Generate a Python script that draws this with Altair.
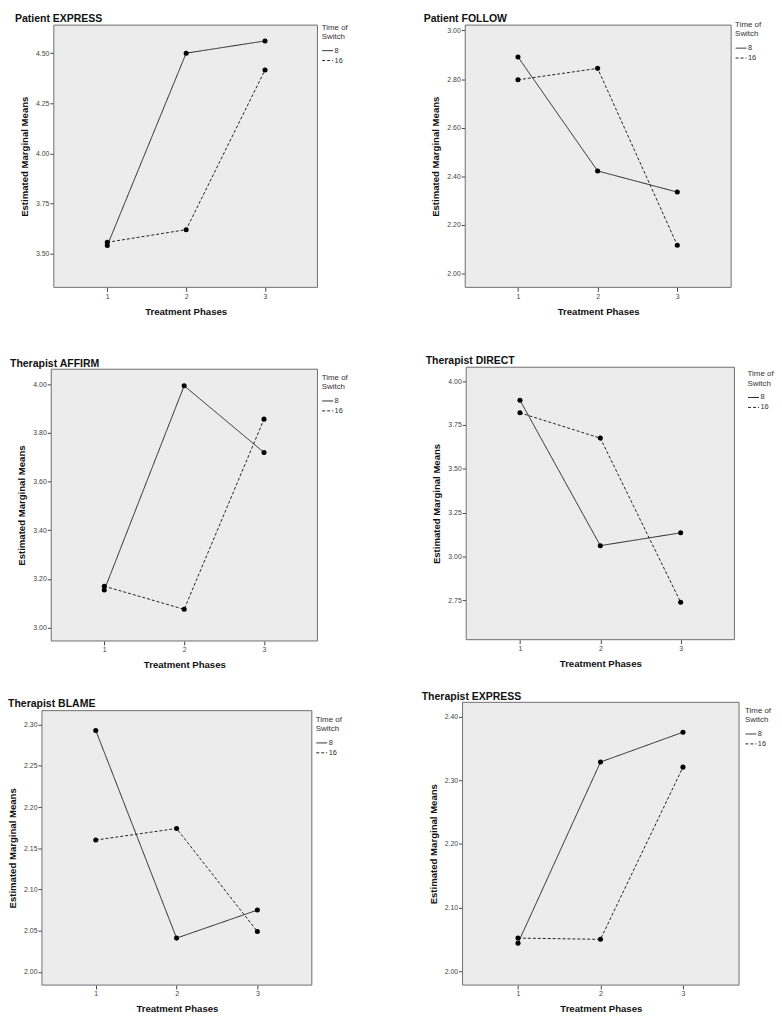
import altair as alt
import pandas as pd

# ---------------- data ----------------
phases = [1, 2, 3]
switch_times = ["8", "16"]
panel_titles = [
    "Patient EXPRESS", "Patient FOLLOW",
    "Therapist AFFIRM", "Therapist DIRECT",
    "Therapist BLAME", "Therapist EXPRESS",
]
means_switch_8 = [
    [3.540, 4.500, 4.561],
    [2.891, 2.422, 2.335],
    [3.154, 3.993, 3.719],
    [3.891, 3.062, 3.135],
    [2.293, 2.041, 2.075],
    [2.044, 2.329, 2.376],
]
means_switch_16 = [
    [3.556, 3.619, 4.416],
    [2.797, 2.844, 2.116],
    [3.170, 3.075, 3.856],
    [3.819, 3.675, 2.739],
    [2.160, 2.174, 2.049],
    [2.052, 2.050, 2.321],
]
y_tick_values = [
    [3.50, 3.75, 4.00, 4.25, 4.50],
    [2.00, 2.20, 2.40, 2.60, 2.80, 3.00],
    [3.00, 3.20, 3.40, 3.60, 3.80, 4.00],
    [2.75, 3.00, 3.25, 3.50, 3.75, 4.00],
    [2.00, 2.05, 2.10, 2.15, 2.20, 2.25, 2.30],
    [2.00, 2.10, 2.20, 2.30, 2.40],
]
x_axis_title = "Treatment Phases"
y_axis_title = "Estimated Marginal Means"
legend_title = ["Time of", "Switch"]

# ---------------- scale extents and layout (page pixels) ----------------
x_domains = [[0.322, 3.665], [0.338, 3.676], [0.336, 3.669],
             [0.331, 3.669], [0.334, 3.674], [0.328, 3.680]]
y_domains = [[3.331, 4.640], [1.943, 3.022], [2.945, 4.061],
             [2.526, 4.079], [1.984, 2.317], [1.978, 2.423]]
# frame: left, right, top, bottom
frames = [(54.3, 320.7, 20, 285), (470, 738.7, 20, 285),
          (51.7, 320.7, 367.7, 642.3), (471, 742, 365.7, 641),
          (42.3, 315, 712.7, 990), (467.3, 746.7, 704.3, 990)]
title_pos = [(15, 17), (428, 17), (10, 365), (430, 362.5), (8, 709), (426, 701.5)]
legend_pos = [(325, 18.5), (742.7, 16), (325, 372.5), (755.3, 369), (319, 718), (752.7, 709)]

M = 8
W, H = 774, 1012
FONT = "Liberation Sans"
BG = "#ECECEC"
FRAME = "#6E6E6E"

layers = []
for i in range(6):
    L, R, T, B = frames[i]
    xs = alt.Scale(domain=x_domains[i], range=[L - M, R - M], nice=False, zero=False)
    ys = alt.Scale(domain=y_domains[i], range=[B - M, T - M], nice=False, zero=False)
    xaxis = alt.Axis(
        orient="bottom", offset=(B - M) - H, values=phases, format="d",
        title=x_axis_title, grid=False, domain=False, tickSize=4, tickColor="#444",
        labelFontSize=7, labelColor="#444", labelPadding=1, labelFont=FONT,
        titleFont=FONT, titleFontSize=9.7, titleFontWeight="bold", titleColor="#111",
        titlePadding=7,
    )
    yaxis = alt.Axis(
        orient="left", offset=-(L - M), values=y_tick_values[i], format=".2f",
        title=y_axis_title, grid=False, domain=False, tickSize=4, tickColor="#444",
        labelFontSize=7, labelColor="#444", labelPadding=1, labelFont=FONT,
        titleFont=FONT, titleFontSize=9.7, titleFontWeight="bold", titleColor="#111",
        titlePadding=6,
    )
    df = pd.DataFrame({
        "Phase": phases * 2,
        "Switch": [switch_times[0]] * 3 + [switch_times[1]] * 3,
        "Mean": means_switch_8[i] + means_switch_16[i],
    })
    box = pd.DataFrame({"x0": [x_domains[i][0]], "x1": [x_domains[i][1]],
                        "y0": [y_domains[i][0]], "y1": [y_domains[i][1]]})
    frame = alt.Chart(box).mark_rect(fill=BG, stroke=FRAME, strokeWidth=1).encode(
        x=alt.X("x0:Q", scale=xs, axis=xaxis), x2="x1:Q",
        y=alt.Y("y0:Q", scale=ys, axis=yaxis), y2="y1:Q",
    )
    lx, ly = legend_pos[i]
    lines = alt.Chart(df).mark_line(color="#222", strokeWidth=1).encode(
        x=alt.X("Phase:Q", scale=xs, axis=xaxis),
        y=alt.Y("Mean:Q", scale=ys, axis=yaxis),
        strokeDash=alt.StrokeDash(
            "Switch:N",
            scale=alt.Scale(domain=switch_times, range=[[1, 0], [3, 2]]),
            legend=alt.Legend(
                title=legend_title, orient="none", legendX=lx - M, legendY=ly - M,
                padding=0, titleFont=FONT, titleFontSize=8, titleFontWeight="normal",
                titleColor="#333", titleLineHeight=9.3, titlePadding=4, titleAlign="left",
                labelFont=FONT, labelFontSize=7.5, labelColor="#333", labelOffset=1,
                symbolType="stroke", symbolSize=121, symbolStrokeWidth=1,
                symbolStrokeColor="#222", rowPadding=-2,
            ),
        ),
    )
    points = alt.Chart(df).mark_circle(size=26, color="#000", opacity=1).encode(
        x=alt.X("Phase:Q", scale=xs, axis=xaxis),
        y=alt.Y("Mean:Q", scale=ys, axis=yaxis),
    )
    layers.append(alt.layer(frame, lines, points))

for i in range(6):
    tx, ty = title_pos[i]
    layers.append(
        alt.Chart(pd.DataFrame({"title": [panel_titles[i]]})).mark_text(
            align="left", baseline="alphabetic", font=FONT, fontSize=10.6,
            fontWeight="bold", color="#111",
        ).encode(text="title:N", x=alt.value(tx - M), y=alt.value(ty - M))
    )

chart = alt.layer(*layers).resolve_scale(
    x="independent", y="independent", strokeDash="independent"
).resolve_axis(x="independent", y="independent").resolve_legend(
    strokeDash="independent"
).properties(
    width=W, height=H, padding=0, autosize=alt.AutoSizeParams(type="none"),
    background="white",
).configure_view(stroke=None)

chart.save("out.html", embed_options={"renderer": "svg", "actions": False})
